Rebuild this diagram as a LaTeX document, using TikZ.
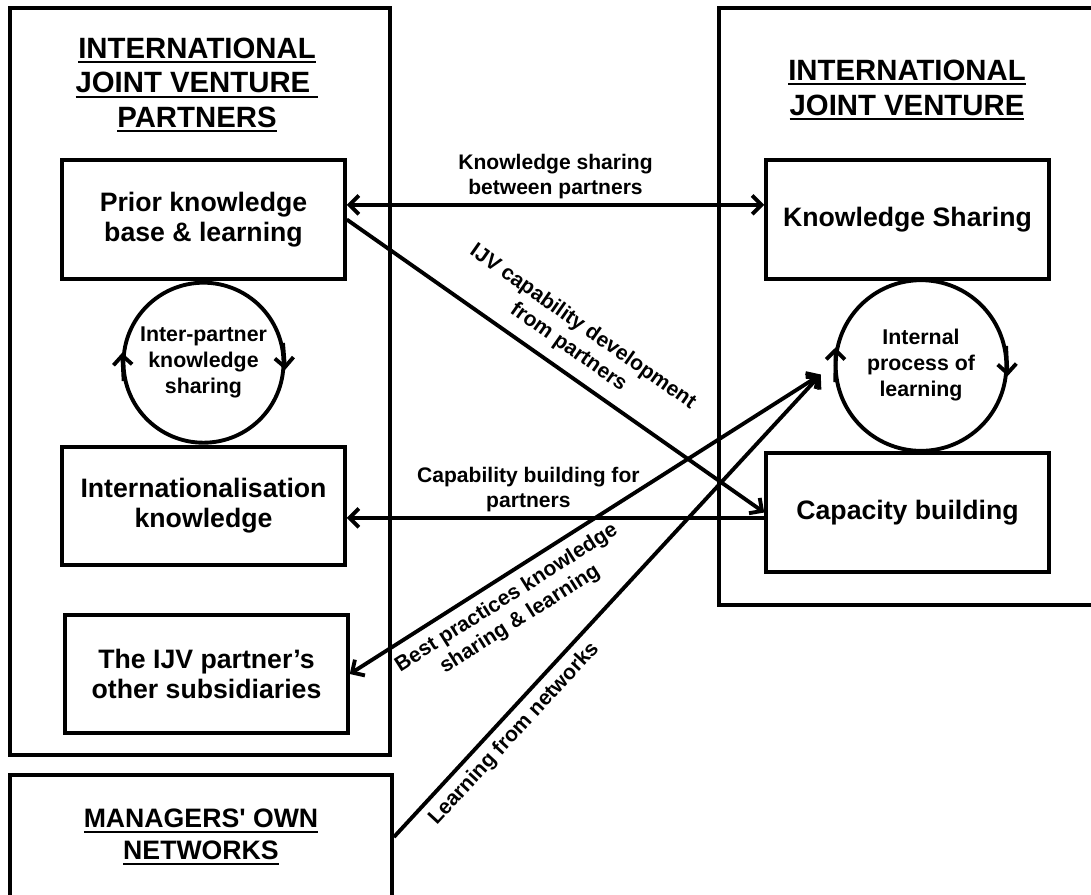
\documentclass[tikz,border=0pt]{standalone}
\usepackage{fontspec}
\setmainfont{Liberation Sans}
\usepackage{tikz}
\usetikzlibrary{arrows.meta,positioning,calc}
\newsavebox{\hulbox}
\newcommand{\hul}[1]{\sbox\hulbox{#1}\rlap{\rule[-3.6pt]{\wd\hulbox}{1.6pt}}\usebox\hulbox}

\begin{document}
\begin{tikzpicture}[
    x=0.75pt, y=-0.75pt,
    node distance=0pt,
    >={Straight Barb[length=7pt,width=14pt]},
    box/.style={rectangle, draw, line width=2.9pt, minimum width=212pt, minimum height=89pt, align=center, font=\fontsize{20}{22.5}\selectfont\bfseries},
    outerbox/.style={rectangle, draw, line width=2.9pt, inner sep=0pt},
    heading/.style={align=center, font=\fontsize{22}{26}\selectfont\bfseries},
    cyclenode/.style={circle, draw, line width=2.9pt, inner sep=0pt, align=center, font=\fontsize{16}{19.5}\selectfont\bfseries},
    lbl/.style={align=center, font=\fontsize{15.8}{18.75}\selectfont\bfseries},
    arrow/.style={->, line width=2.9pt}
]
    \fill[white] (0,0) rectangle (1091,894);
    \useasboundingbox (0,0) rectangle (1091,894);
    \clip (0,0) rectangle (1091,894);

    \node[outerbox, minimum width=285pt, minimum height=560pt] (partners) at (200,381.5) {};
    \node[outerbox, minimum width=286pt, minimum height=448pt] (ijv) at (909.5,306.5) {};
    \node[outerbox, minimum width=286.5pt, minimum height=93pt, align=center, font=\fontsize{20}{24}\selectfont\bfseries] (mgr) at (201,837) {\hul{MANAGERS\textquotesingle{} OWN}\\\hul{NETWORKS}};

    \node[heading] (partnershead) at (197,85) {\hul{INTERNATIONAL}\\\hul{JOINT VENTURE\ }\\\hul{PARTNERS}};
    \node[heading] (ijvhead) at (907,90) {\hul{INTERNATIONAL}\\\hul{JOINT VENTURE}};

    \node[box] (prior) at (203.5,219.5) {Prior knowledge\\base \& learning};
    \node[cyclenode, minimum size=120pt, below=of prior] (share) {Inter-partner\\knowledge\\sharing};
    \node[box, below=of share] (intl) {Internationalisation\\knowledge};
    \node[box] (subs) at (206.5,674) {The IJV partner’s\\other subsidiaries};

    \node[box] (ks) at (907.5,219.5) {Knowledge Sharing};
    \node[cyclenode, minimum size=128pt] (learn) at (921,365.5) {Internal\\process of\\learning};
    \node[box] (cap) at (907.5,512.5) {Capacity building};
    \coordinate (learnin) at ($(learn.west)+(-13,9)$);

    \draw[arrow] (share.193) -- (share.173);
    \draw[arrow] (share.14) -- (share.-5);
    \draw[arrow] (learn.191) -- (learn.168);
    \draw[arrow] (learn.13) -- (learn.-7);

    \draw[arrow, <->] ([yshift=11pt]prior.east) -- node[lbl, above] {Knowledge sharing\\between partners} ([yshift=11pt]ks.west);
    \draw[arrow] (prior.east) -- node[lbl, above, sloped, pos=0.5, inner ysep=8pt] {IJV capability development\\from partners} (cap.west);
    \draw[arrow] ([yshift=-4pt]cap.west) -- node[lbl, above, pos=0.565] {Capability building for\\partners} ([yshift=-4pt]cap.west -| intl.east);
    \draw[arrow, <->] (subs.east) -- node[lbl, below, sloped, pos=0.31, inner ysep=6.5pt] {Best practices knowledge\\sharing \& learning} (learnin);
    \draw[arrow] (mgr.east) -- node[lbl, below, sloped, pos=0.25, inner ysep=5pt] {Learning from networks} (learnin);
\end{tikzpicture}
\end{document}
